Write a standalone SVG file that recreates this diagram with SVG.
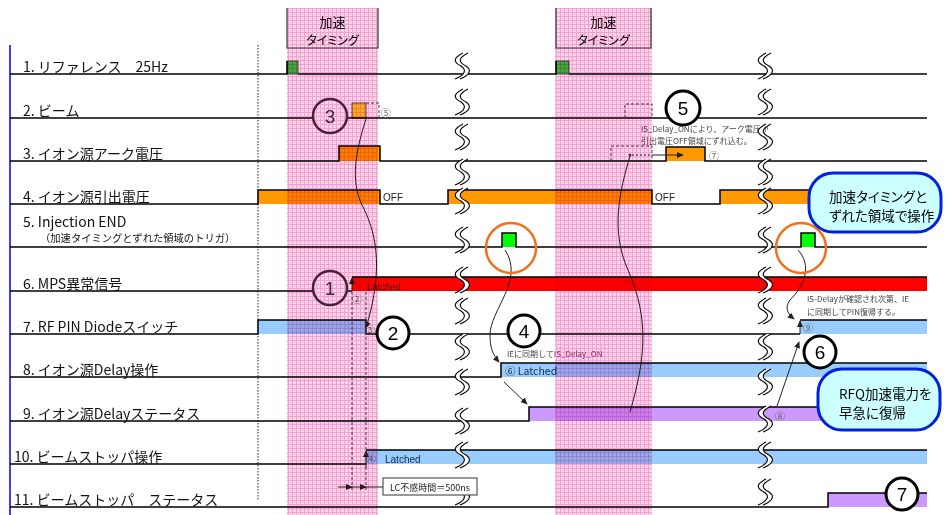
<svg xmlns="http://www.w3.org/2000/svg" width="946" height="515" viewBox="0 0 946 515">
<defs>
<style>
.jp{font-family:"Noto Sans CJK JP","Noto Sans CJK SC",sans-serif;}
.lat{font-family:"Liberation Sans",Arial,sans-serif;}
.palt{font-feature-settings:"palt";}
.lbl{font-size:14px;fill:#111;}
.base{fill:none;stroke:#000;stroke-width:1.5;}
.dash{fill:none;stroke:#444;stroke-width:1;stroke-dasharray:3,2;}
.conn{fill:none;stroke:#222;stroke-width:1;}
.big circle{fill:#fff;stroke:#000;stroke-width:3;}
.big text{font-family:"Liberation Sans",Arial,sans-serif;font-size:19px;text-anchor:middle;fill:#000;}
.pc circle{fill:#fff;stroke:#4b2b45;stroke-width:2.5;}
.pc text{font-family:"Liberation Sans",Arial,sans-serif;font-size:19px;text-anchor:middle;fill:#4b2b45;}
.small{font-size:10px;fill:#666;}
.note{font-size:8px;fill:#444;}
.band{mix-blend-mode:multiply;}
.orange{fill:#ff9900;}
.blue{fill:#99ccff;}
.purple{fill:#cc99ff;}
.red{fill:#ff0000;}
.call{fill:#ccffff;stroke:#0022dd;stroke-width:3;}
</style>
<pattern id="pk" width="4" height="4" patternUnits="userSpaceOnUse">
<rect width="4" height="4" fill="#fbd2e9"/>
<path d="M0,0.5H4M0.5,0V4" stroke="#f2a2d2" stroke-width="1"/>
</pattern>
<marker id="ah" viewBox="0 0 8 8" refX="7" refY="4" markerWidth="7" markerHeight="7" markerUnits="userSpaceOnUse" orient="auto">
<path d="M0,0.5L8,4L0,7.5z" fill="#222"/>
</marker>
<g id="brk">
<path d="M4,-13 C-6,-8 -6,-4 2,0 C8,4 6,9 -4,13 L1,13 C11,9 13,4 7,0 C-1,-4 -1,-8 9,-13 Z" fill="#fff"/>
<path d="M4,-13 C-6,-8 -6,-4 2,0 C8,4 6,9 -4,13 M9,-13 C-1,-8 -1,-4 7,0 C13,4 11,9 1,13" fill="none" stroke="#000" stroke-width="1.1"/>
</g>
</defs>
<rect width="946" height="515" fill="#fff"/>

<g id="frame">
<line x1="10" y1="45" x2="10" y2="515" stroke="#0000ee" stroke-width="1.5"/>
<line x1="258" y1="45" x2="258" y2="500" stroke="#222" stroke-width="1" stroke-dasharray="1.5,1.5"/>
</g>

<g id="labels" class="jp lbl">
<text x="23" y="72">1. リファレンス　25Hz</text>
<text x="23" y="116">2. ビーム</text>
<text x="23" y="159">3. イオン源アーク電圧</text>
<text x="23" y="202">4. イオン源引出電圧</text>
<text x="23" y="227">5. Injection END</text>
<text x="40" y="242" style="font-size:10.3px">（加速タイミングとずれた領域のトリガ）</text>
<text x="23" y="289">6. MPS異常信号</text>
<text x="23" y="332">7. RF PIN Diodeスイッチ</text>
<text x="23" y="375">8. イオン源Delay操作</text>
<text x="23" y="419">9. イオン源Delayステータス</text>
<text x="14" y="462">10. ビームストッパ操作</text>
<text x="14" y="505">11. ビームストッパ　ステータス</text>
</g>

<g id="sig1">
<rect x="287" y="61" width="11" height="13" fill="#44cc44" stroke="#333" stroke-width="0.8"/>
<rect x="556" y="61" width="13" height="13" fill="#44cc44" stroke="#333" stroke-width="0.8"/>
<path class="base" d="M10,74H287V61M298,74H556V61M569,74H927"/>
</g>
<g id="sig2">
<rect x="352" y="103" width="14" height="15" fill="#ffcc33" stroke="#333" stroke-width="0.8"/>
<path class="base" d="M10,118H927"/>
<path class="dash" d="M366,103H379V118"/>
<path class="dash" d="M625,118V104H652V118"/>
<text x="381" y="117" class="jp small">⑤</text>
</g>
<g id="sig3">
<rect x="339" y="146" width="41" height="15" class="orange"/>
<rect x="666" y="147" width="39" height="14" class="orange"/>
<path class="base" d="M10,161H339V146H380V161H666V147H705V161H927"/>
<path class="dash" d="M611,161V146H652V161"/>
<text x="709" y="160" class="jp small">⑦</text>
<text x="641" y="132" class="jp note">IS_Delay_ONにより、アーク電圧が</text>
<text x="641" y="144" class="jp note">引出電圧OFF領域にずれ込む。</text>
</g>
<g id="sig4">
<rect x="258" y="190" width="122" height="14" class="orange"/>
<rect x="448" y="190" width="204" height="14" class="orange"/>
<rect x="720" y="190" width="207" height="14" class="orange"/>
<path class="base" d="M10,204H258V190H380V204H448V190H652V204H720V190H927"/>
<text x="383" y="201" class="lat" font-size="10" fill="#222">OFF</text>
<text x="655" y="201" class="lat" font-size="10" fill="#222">OFF</text>
</g>
<g id="sig5">
<rect x="502" y="233" width="14" height="14" fill="#00ff00"/>
<rect x="801" y="233" width="14" height="14" fill="#00ff00"/>
<path class="base" d="M10,247H502V233H516V247H801V233H815V247H927"/>
</g>
<g id="sig6">
<rect x="352" y="277" width="575" height="14" class="red"/>
<path class="base" d="M10,291H352M352,277H927"/>
<text x="367" y="290" class="lat" font-size="9.5" fill="#3a1a1a">Latched</text>
<text x="352" y="303" class="jp small">②</text>
</g>
<g id="sig7">
<rect x="258" y="320" width="108" height="14" class="blue"/>
<rect x="800" y="320" width="127" height="14" class="blue"/>
<path class="base" d="M10,334H258V320H366V334H800M800,320H927"/>
<text x="365" y="334" class="jp small">③</text>
<text x="803" y="332" class="jp small" fill="#335">⑨</text>
</g>
<g id="sig8">
<rect x="501" y="363" width="426" height="14" class="blue"/>
<path class="base" d="M10,377H501V363H927"/>
<text x="505" y="375" class="jp" font-size="10.5" fill="#1a2a4a">⑥ Latched</text>
<text x="507" y="357" class="jp note">IEに同期して<tspan fill="#8a3a78">IS_Delay_ON</tspan></text>
</g>
<g id="sig9">
<rect x="529" y="407" width="398" height="14" class="purple"/>
<path class="base" d="M10,421H529V407H927"/>
<text x="775" y="420" class="jp small" fill="#444">⑧</text>
</g>
<g id="sig10">
<rect x="366" y="450" width="561" height="14" class="blue"/>
<path class="base" d="M10,464H366M366,450H927"/>
<text x="366" y="463" class="jp small">④</text>
<text x="385" y="463" class="lat" font-size="10" fill="#1a2a4a">Latched</text>
</g>
<g id="sig11">
<rect x="828" y="493" width="99" height="14" class="purple"/>
<path class="base" d="M10,507H828V493H927"/>
</g>

<g id="breaks">
<use href="#brk" transform="translate(459,66)"/>
<use href="#brk" transform="translate(459,102)"/>
<use href="#brk" transform="translate(459,137)"/>
<use href="#brk" transform="translate(459,172)"/>
<use href="#brk" transform="translate(459,201)"/>
<use href="#brk" transform="translate(459,240)"/>
<use href="#brk" transform="translate(459,280)"/>
<use href="#brk" transform="translate(459,311)"/>
<use href="#brk" transform="translate(459,347)"/>
<use href="#brk" transform="translate(459,382)"/>
<use href="#brk" transform="translate(459,421)"/>
<use href="#brk" transform="translate(459,455)"/>
<use href="#brk" transform="translate(459,492)"/>
<use href="#brk" transform="translate(762,66)"/>
<use href="#brk" transform="translate(762,102)"/>
<use href="#brk" transform="translate(762,137)"/>
<use href="#brk" transform="translate(762,172)"/>
<use href="#brk" transform="translate(762,201)"/>
<use href="#brk" transform="translate(762,240)"/>
<use href="#brk" transform="translate(762,280)"/>
<use href="#brk" transform="translate(762,311)"/>
<use href="#brk" transform="translate(762,347)"/>
<use href="#brk" transform="translate(762,382)"/>
<use href="#brk" transform="translate(762,419)"/>
<use href="#brk" transform="translate(762,455)"/>
<use href="#brk" transform="translate(762,492)"/>
</g>

<g id="connectors">
<path class="conn" d="M366,119 C356,150 350,180 362,205 C375,230 385,265 366,328" stroke="#4b2b45" marker-end="url(#ah)"/>
<path class="conn" d="M630,412 C645,360 650,320 628,270 C610,230 620,190 630,156"/>
<circle cx="630" cy="155" r="1.3" fill="#333"/>
<path class="conn" d="M632,155H652" stroke-dasharray="2,2"/>
<path class="conn" d="M652,155H683" marker-end="url(#ah)"/>
<path class="conn" d="M505,250 C525,280 490,310 490,335 C490,348 493,355 499,362" marker-end="url(#ah)"/>
<path class="conn" d="M504,382L527,404" marker-end="url(#ah)"/>
<path class="conn" d="M798,250 C812,265 805,285 790,300 C784,308 788,314 794,319" marker-end="url(#ah)"/>
<path class="conn" d="M777,406L799,342" marker-end="url(#ah)"/>
<path class="conn" d="M800,334V321" stroke-width="1.5" marker-end="url(#ah)"/>
<path class="conn" d="M352,291V278" marker-end="url(#ah)"/>
<path class="conn" d="M366,468V451" marker-end="url(#ah)"/>
<path class="dash" d="M352,292V490M366,292V490"/>
<path class="conn" d="M338,487H352" stroke="#555" marker-end="url(#ah)"/>
<path class="conn" d="M352,487H366" stroke="#555" marker-end="url(#ah)"/>
<path class="conn" d="M366,487H383" stroke="#555"/>
</g>

<g id="n3" class="pc"><circle cx="330" cy="116" r="17"/><text x="330" y="123">3</text></g>
<g id="n1" class="pc"><circle cx="330" cy="288" r="17"/><text x="330" y="295">1</text></g>

<g id="bands">
<rect class="band" x="287" y="8" width="91" height="507" fill="url(#pk)"/>
<rect class="band" x="555" y="8" width="97" height="507" fill="url(#pk)"/>
</g>
<g id="hdr1">
<path d="M287,8V48H378V8" fill="none" stroke="#333" stroke-width="1.2"/>
<text x="332.5" y="27" class="jp" font-size="13" text-anchor="middle">加速</text>
<text x="332.5" y="45" class="jp palt" font-size="12" text-anchor="middle">タイミング</text>
</g>
<g id="hdr2">
<path d="M556,8V48H651V8" fill="none" stroke="#333" stroke-width="1.2"/>
<text x="603.5" y="27" class="jp" font-size="13" text-anchor="middle">加速</text>
<text x="603.5" y="45" class="jp palt" font-size="12" text-anchor="middle">タイミング</text>
</g>

<g id="o1"><circle cx="511" cy="248" r="25" fill="none" stroke="#f07020" stroke-width="2.5"/></g>
<g id="o2"><circle cx="801" cy="248" r="25" fill="none" stroke="#f07020" stroke-width="2.5"/></g>

<g id="n2" class="big"><circle cx="393" cy="333" r="16"/><text x="393" y="340">2</text></g>
<g id="n4" class="big"><circle cx="524" cy="331" r="16"/><text x="524" y="338">4</text></g>
<g id="n5" class="big"><circle cx="683" cy="108" r="17"/><text x="683" y="115">5</text></g>
<g id="n6" class="big"><circle cx="820" cy="352" r="16"/><text x="820" y="359">6</text></g>
<g id="n7" class="big"><circle cx="902" cy="494" r="16"/><text x="902" y="501">7</text></g>

<g id="note-pin">
<text x="807" y="302" class="jp note">IS-Delayが確認され次第、IE</text>
<text x="807" y="315" class="jp note">に同期してPIN復帰する。</text>
</g>
<g id="lc">
<rect x="383" y="478" width="94" height="17" fill="#fff" stroke="#333" stroke-width="1"/>
<text x="430" y="491" class="jp" font-size="9" text-anchor="middle" fill="#222">LC不感時間＝500ns</text>
</g>

<g id="callout1">
<rect class="call" x="809" y="173" width="132" height="59" rx="24"/>
<text x="829" y="202" class="jp palt" font-size="13.5">加速タイミングと</text>
<text x="829" y="221" class="jp palt" font-size="13.5">ずれた領域で操作</text>
</g>
<g id="callout2">
<rect class="call" x="818" y="369" width="122" height="61" rx="24"/>
<text x="839" y="399" class="jp palt" font-size="13.5">RFQ加速電力を</text>
<text x="839" y="418" class="jp palt" font-size="13.5">早急に復帰</text>
</g>
</svg>
